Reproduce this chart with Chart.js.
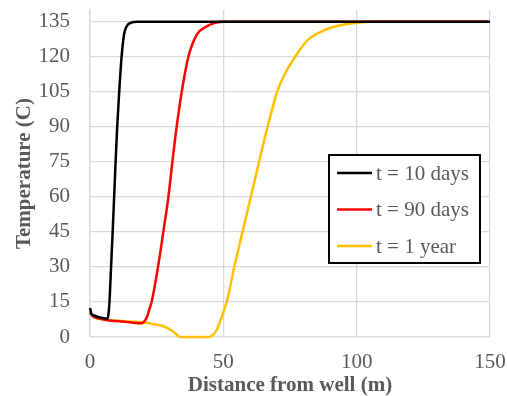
<!DOCTYPE html>
<html>
<head>
<meta charset="utf-8">
<script src="https://cdn.jsdelivr.net/npm/chart.js@4.4.1/dist/chart.umd.min.js"></script>
<style>
  html, body { margin: 0; padding: 0; background: #fff; }
  #wrap { width: 507px; height: 396px; }
</style>
</head>
<body>
<div id="wrap"><canvas id="chart" width="507" height="396"></canvas></div>
<script>
// Series (distance in m, temperature in C)
const seriesLabels = ['t = 10 days', 't = 90 days', 't = 1 year'];

const day10X = [0, 0.5, 1.5, 3, 5, 6.5, 6.9, 7.3, 7.9, 8.5, 9.05, 9.6, 10.2, 10.95, 11.85, 12.75, 13.75, 15.5, 17.5, 150];
const day10Y = [12.4, 10, 9.2, 8.6, 8.0, 7.8, 9.5, 15, 30, 45, 60, 75, 90, 105, 120, 129.4, 133, 134.6, 135, 135];

const day90X = [0, 1, 3, 6, 10, 15, 19.4, 20.5, 21.5, 22.3, 23.1, 25.5, 27.5, 29.4, 30.9, 32.5, 34.4, 36.9, 40, 43.75, 47, 50, 150];
const day90Y = [10.5, 9, 8, 7.3, 6.8, 6.3, 5.9, 6.8, 9, 12, 15, 30, 45, 60, 75, 90, 105, 120, 129.4, 133, 134.5, 135, 135];

const year1X = [0, 1, 3, 6, 10, 15, 19.4, 24, 28, 30, 31.25, 32.5, 33.75, 44.5, 46, 47.5, 49.5, 51.25, 54.1, 57.2, 60.3, 63.4, 66.6, 70.2, 73, 76.25, 78.7, 82, 86, 90, 95, 100, 105, 150];
const year1Y = [11, 9, 8, 7.3, 7, 6.6, 6.3, 5.5, 4.4, 3.2, 2.3, 1, 0, 0, 0.8, 3, 9, 15, 30, 45, 60, 75, 90, 105, 112.5, 118.7, 123, 127.5, 130.3, 132.3, 133.7, 134.5, 135, 135];

const seriesColors = ['#000000', '#ff0000', '#ffc000'];

const xTicks = [0, 50, 100, 150];
const yTicks = [0, 15, 30, 45, 60, 75, 90, 105, 120, 135];

function toPoints(xs, ys) {
    return xs.map((x, i) => ({ x: x, y: ys[i] }));
}

const serif = '"Liberation Serif", "Times New Roman", serif';
const gray = '#595959';
const gridGray = '#d9d9d9';

// legend drawn inside the plot, Excel style
const insideLegend = {
    id: 'insideLegend',
    afterDraw(chart) {
        const ctx = chart.ctx;
        ctx.save();
        ctx.fillStyle = '#ffffff';
        ctx.fillRect(329, 155, 151, 108);
        ctx.strokeStyle = '#000000';
        ctx.lineWidth = 2;
        ctx.strokeRect(329, 155, 151, 108);
        ctx.font = '21px ' + serif;
        ctx.textBaseline = 'middle';
        ctx.textAlign = 'left';
        chart.data.datasets.forEach((ds, i) => {
            const y = 173 + i * 36.5;
            ctx.strokeStyle = ds.borderColor;
            ctx.lineWidth = 2.5;
            ctx.beginPath();
            ctx.moveTo(337, y);
            ctx.lineTo(372, y);
            ctx.stroke();
            ctx.fillStyle = gray;
            ctx.fillText(ds.label, 376, y + 1);
        });
        ctx.restore();
    }
};

const datasets = [
    { data: toPoints(day10X, day10Y) },
    { data: toPoints(day90X, day90Y) },
    { data: toPoints(year1X, year1Y) }
].map((d, i) => ({
    label: seriesLabels[i],
    data: d.data,
    showLine: true,
    borderColor: seriesColors[i],
    backgroundColor: seriesColors[i],
    borderWidth: 2.5,
    pointRadius: 0,
    cubicInterpolationMode: 'monotone',
    clip: 4
}));

const ctx = document.getElementById('chart').getContext('2d');
const chart = new Chart(ctx, {
    type: 'scatter',
    data: { datasets: datasets },
    options: {
        responsive: false,
        animation: false,
        layout: { padding: { top: 10, right: 17, left: 14, bottom: 0 } },
        plugins: {
            legend: { display: false },
            tooltip: { enabled: false }
        },
        scales: {
            x: {
                type: 'linear',
                min: 0,
                max: 150,
                afterBuildTicks: axis => { axis.ticks = xTicks.map(v => ({ value: v })); },
                afterFit: axis => {
                    axis.height = 59;
                    axis.paddingLeft = 0;
                    axis.paddingRight = 0;
                },
                ticks: {
                    padding: 15,
                    color: gray,
                    maxRotation: 0,
                    font: { family: serif, size: 21, lineHeight: 1 }
                },
                grid: { color: gridGray, lineWidth: 1.3, drawTicks: false },
                border: { color: gridGray, width: 1.3 },
                title: {
                    display: true,
                    text: 'Distance from well (m)',
                    color: gray,
                    padding: 0,
                    font: { family: serif, size: 21, weight: 'bold', lineHeight: 1 }
                }
            },
            y: {
                type: 'linear',
                min: 0,
                max: 140,
                afterBuildTicks: axis => { axis.ticks = yTicks.map(v => ({ value: v })); },
                afterFit: axis => {
                    axis.width = 76;
                    axis.paddingTop = 0;
                    axis.paddingBottom = 0;
                },
                ticks: {
                    padding: 20,
                    color: gray,
                    font: { family: serif, size: 21, lineHeight: 1 }
                },
                grid: { color: gridGray, lineWidth: 1.3, drawTicks: false },
                border: { color: gridGray, width: 1.3 },
                title: {
                    display: true,
                    text: 'Temperature (C)',
                    color: gray,
                    padding: { top: 0, bottom: 4 },
                    font: { family: serif, size: 21, weight: 'bold', lineHeight: 1 }
                }
            }
        }
    },
    plugins: [insideLegend]
});
</script>
</body>
</html>
